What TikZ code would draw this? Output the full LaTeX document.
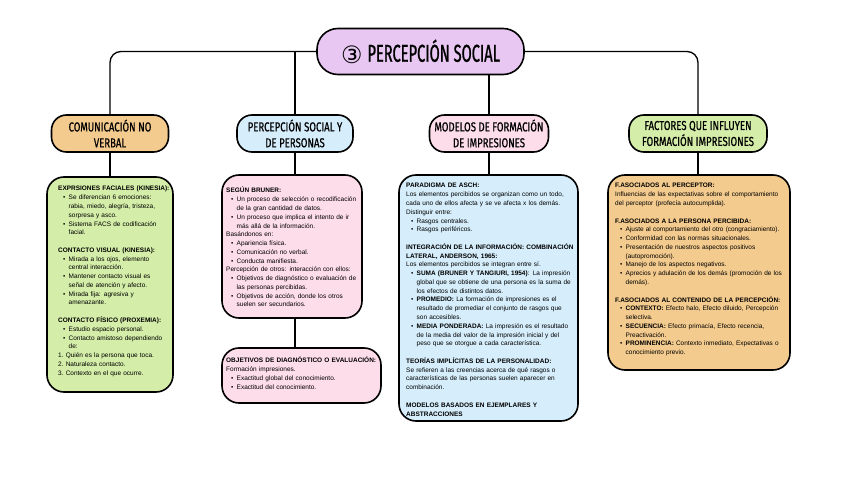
\documentclass[tikz,border=0pt]{standalone}
\usepackage{fontspec}
\setmainfont{Liberation Sans}
\newfontfamily\handfont[FakeStretch=0.74,FakeBold=0.6]{Fira Sans}
\newfontfamily\titlefont[FakeStretch=0.6,FakeBold=0.8]{Fira Sans}
\newfontfamily\symfont{DejaVu Sans}
\definecolor{titlec}{HTML}{E8C7F2}
\definecolor{orangec}{HTML}{F4CB8E}
\definecolor{greenc}{HTML}{D4EDA8}
\definecolor{bluec}{HTML}{D6EEFB}
\definecolor{pinkc}{HTML}{FDDDE9}
\newcommand\bhd[1]{\par\noindent\textbf{#1}\par}
\newcommand\bit[1]{\par{\leftskip=10.5bp\noindent\llap{\textbullet\hspace{3.2bp}}#1\par}}
\newcommand\numit[2]{\par\noindent#1.~#2\par}
\newcommand\bgap{\par\vskip 8.8bp}
\newcommand\pl[1]{\par\noindent #1\par}
\begin{document}
\begin{tikzpicture}[x=1bp,y=-1bp,
  titlebox/.style={draw, line width=1.6bp, fill=titlec, rounded corners=21bp, minimum width=207bp, minimum height=46bp, inner sep=0},
  hdr/.style={draw, line width=1.6bp, rounded corners=15bp, minimum height=37bp, align=center, inner sep=0, font=\handfont\fontsize{13}{16}\selectfont},
  bodybox/.style={draw, line width=1.6bp, rounded corners=17bp, inner sep=0},
  conn/.style={line width=1.3bp},
  txt/.style={anchor=north west, inner sep=0, text width=250bp, align=left, font=\fontsize{6.5}{8.8}\selectfont}]
\useasboundingbox[fill=white] (0,0) rectangle (848,477);
% title
\node[titlebox] (title) at (420.5,51.5) {\raisebox{-1.5bp}{\symfont\fontsize{24}{24}\selectfont ③}\hspace{5bp}{\titlefont\fontsize{24.5}{24.5}\selectfont PERCEPCIÓN SOCIAL}\hspace{18bp}};
% headers
\node[hdr, fill=orangec, minimum width=117bp] (h1) at (110,133.5) {COMUNICACIÓN NO\\VERBAL};
\node[hdr, fill=bluec, minimum width=116bp] (h2) at (295,133.5) {PERCEPCIÓN SOCIAL Y\\DE PERSONAS};
\node[hdr, fill=pinkc, minimum width=119bp] (h3) at (489,133.5) {MODELOS DE FORMACIÓN\\DE IMPRESIONES};
\node[hdr, fill=greenc, minimum width=138bp] (h4) at (698,133.5) {FACTORES QUE INFLUYEN\\FORMACIÓN IMPRESIONES};
% body boxes
\node[bodybox, fill=greenc, minimum width=126bp, minimum height=215bp] (b1) at (110,284.5) {};
\node[bodybox, fill=pinkc, minimum width=140bp, minimum height=143bp] (b2) at (292,246.5) {};
\node[bodybox, fill=pinkc, minimum width=159bp, minimum height=55bp] (b2b) at (301.5,375.5) {};
\node[bodybox, fill=bluec, minimum width=179bp, minimum height=246bp] (b3) at (488.5,298) {};
\node[bodybox, fill=orangec, minimum width=182bp, minimum height=195bp] (b4) at (699,272.5) {};
% connectors
\draw[conn, rounded corners=11bp] (h1.north) |- (title.west);
\draw[conn] (h2.north) -- (h2.north |- title.west);
\draw[conn] (h3.north |- title.south) -- (h3.north);
\draw[conn, rounded corners=11bp] (title.east) -| (h4.north);
\draw[conn] (h1.south) -- (h1.south |- b1.north);
\draw[conn] (h2.south) -- (h2.south |- b2.north);
\draw[conn] (h3.south) -- (h3.south |- b3.north);
\draw[conn] (h4.south) -- (h4.south |- b4.north);
\draw[conn] (b2.south -| h2.south) -- (h2.south |- b2b.north);
% texts
\node[txt] (t1) at (58,182) {%
\bhd{EXPRSIONES FACIALES (KINESIA):}
\bit{Se diferencian 6 emociones:\newline rabia, miedo, alegría, tristeza,\newline sorpresa y asco.}
\bit{Sistema FACS de codificación\newline facial.}
\bgap
\bhd{CONTACTO VISUAL (KINESIA):}
\bit{Mirada a los ojos, elemento\newline central interacción.}
\bit{Mantener contacto visual es\newline señal de atención y afecto.}
\bit{Mirada fija: agresiva y\newline amenazante.}
\bgap
\bhd{CONTACTO FÍSICO (PROXEMIA):}
\bit{Estudio espacio personal.}
\bit{Contacto amistoso dependiendo\newline de:}
\numit{1}{Quién es la persona que toca.}
\numit{2}{Naturaleza contacto.}
\numit{3}{Contexto en el que ocurre.}};
\node[txt] (t2) at (226,184) {%
\bhd{SEGÚN BRUNER:}
\bit{Un proceso de selección o recodificación\newline de la gran cantidad de datos.}
\bit{Un proceso que implica el intento de ir\newline más allá de la información.}
\pl{Basándonos en:}
\bit{Apariencia física.}
\bit{Comunicación no verbal.}
\bit{Conducta manifiesta.}
\pl{Percepción de otros: interacción con ellos:}
\bit{Objetivos de diagnóstico o evaluación de\newline las personas percibidas.}
\bit{Objetivos de acción, donde los otros\newline suelen ser secundarios.}};
\node[txt] (t2b) at (226,354) {%
\bhd{OBJETIVOS DE DIAGNÓSTICO O EVALUACIÓN:}
\pl{Formación impresiones.}
\bit{Exactitud global del conocimiento.}
\bit{Exactitud del conocimiento.}};
\node[txt] (t3) at (406,179) {%
\bhd{PARADIGMA DE ASCH:}
\pl{Los elementos percibidos se organizan como un todo,\newline cada uno de ellos afecta y se ve afecta x los demás.\newline Distinguir entre:}
\bit{Rasgos centrales.}
\bit{Rasgos periféricos.}
\bgap
\bhd{INTEGRACIÓN DE LA INFORMACIÓN: COMBINACIÓN\newline LATERAL, ANDERSON, 1965:}
\pl{Los elementos percibidos se integran entre sí.}
\bit{\textbf{SUMA (BRUNER Y TANGIURI, 1954)}: La impresión\newline global que se obtiene de una persona es la suma de\newline los efectos de distintos datos.}
\bit{\textbf{PROMEDIO:} La formación de impresiones es el\newline resultado de promediar el conjunto de rasgos que\newline son accesibles.}
\bit{\textbf{MEDIA PONDERADA:} La impresión es el resultado\newline de la media del valor de la impresión inicial y del\newline peso que se otorgue a cada característica.}
\bgap
\bhd{TEORÍAS IMPLÍCITAS DE LA PERSONALIDAD:}
\pl{Se refieren a las creencias acerca de qué rasgos o\newline características de las personas suelen aparecer en\newline combinación.}
\bgap
\bhd{MODELOS BASADOS EN EJEMPLARES Y\newline ABSTRACCIONES}};
\node[txt] (t4) at (615,179) {%
\bhd{F.ASOCIADOS AL PERCEPTOR:}
\pl{Influencias de las expectativas sobre el comportamiento\newline del perceptor (profecía autocumplida).}
\bgap
\bhd{F.ASOCIADOS A LA PERSONA PERCIBIDA:}
\bit{Ajuste al comportamiento del otro (congraciamiento).}
\bit{Conformidad con las normas situacionales.}
\bit{Presentación de nuestros aspectos positivos\newline (autopromoción).}
\bit{Manejo de los aspectos negativos.}
\bit{Aprecios y adulación de los demás (promoción de los\newline demás).}
\bgap
\bhd{F.ASOCIADOS AL CONTENIDO DE LA PERCEPCIÓN:}
\bit{\textbf{CONTEXTO:} Efecto halo, Efecto diluido, Percepción\newline selectiva.}
\bit{\textbf{SECUENCIA:} Efecto primacía, Efecto recencia,\newline Preactivación.}
\bit{\textbf{PROMINENCIA:} Contexto inmediato, Expectativas o\newline conocimiento previo.}};
\end{tikzpicture}
\end{document}
